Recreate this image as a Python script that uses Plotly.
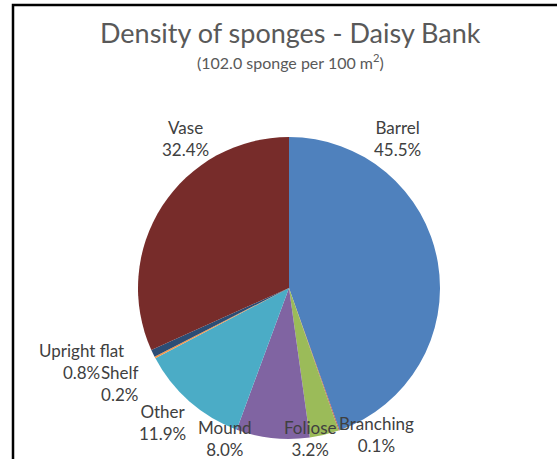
import plotly.graph_objects as go

W, H = 557, 459

categories = ["Barrel", "Branching", "Foliose", "Mound", "Other", "Shelf", "Upright flat", "Vase"]
percents = [45.5, 0.1, 3.2, 8.0, 11.9, 0.2, 0.8, 32.4]
colors = ["#4F81BD", "#C0504D", "#9BBB59", "#8064A2", "#4BACC6", "#F79646", "#2C4D75", "#772C2A"]

# label anchor centres in pixels (x, y of first line centre)
label_px = {
    "Barrel": (397, 127),
    "Branching": (376, 423),
    "Foliose": (310, 427),
    "Mound": (225, 427),
    "Other": (162, 411),
    "Shelf": (120, 372),
    "Upright flat": (81, 350),
    "Vase": (185, 127),
}

FONT = "Lato, 'Open Sans', sans-serif"

fig = go.Figure()
fig.add_trace(go.Pie(
    labels=categories,
    values=percents,
    marker=dict(colors=colors, line=dict(width=0)),
    sort=False,
    direction="clockwise",
    rotation=0,
    textinfo="none",
    hoverinfo="label+percent",
    domain=dict(x=[138 / W, 440 / W], y=[1 - 439 / H, 1 - 137 / H]),
    showlegend=False,
))

annotations = []
for cat, pct in zip(categories, percents):
    px, py = label_px[cat]
    annotations.append(dict(
        x=px / W, y=1 - (py + 11) / H, xref="paper", yref="paper",
        text=f"{cat}<br>{pct:.1f}%", showarrow=False,
        xanchor="center", yanchor="middle", align="center",
        font=dict(family=FONT, size=17, color="#404040"),
    ))

annotations.append(dict(
    x=290 / W, y=1 - 33 / H, xref="paper", yref="paper",
    text="Density of sponges - Daisy Bank", showarrow=False,
    xanchor="center", yanchor="middle",
    font=dict(family=FONT, size=27, color="#595959"),
))
annotations.append(dict(
    x=290 / W, y=1 - 61 / H, xref="paper", yref="paper",
    text="(102.0 sponge per 100 m<sup>2</sup>)", showarrow=False,
    xanchor="center", yanchor="middle",
    font=dict(family=FONT, size=16, color="#595959"),
))

fig.update_layout(
    width=W, height=H,
    margin=dict(l=0, r=0, t=0, b=0),
    paper_bgcolor="white",
    plot_bgcolor="white",
    annotations=annotations,
    shapes=[dict(
        type="rect", xref="paper", yref="paper",
        x0=13 / W, x1=1.02, y0=-0.02, y1=1 - 5 / H,
        line=dict(color="black", width=2.5),
    )],
)

fig.write_html("out.html")
